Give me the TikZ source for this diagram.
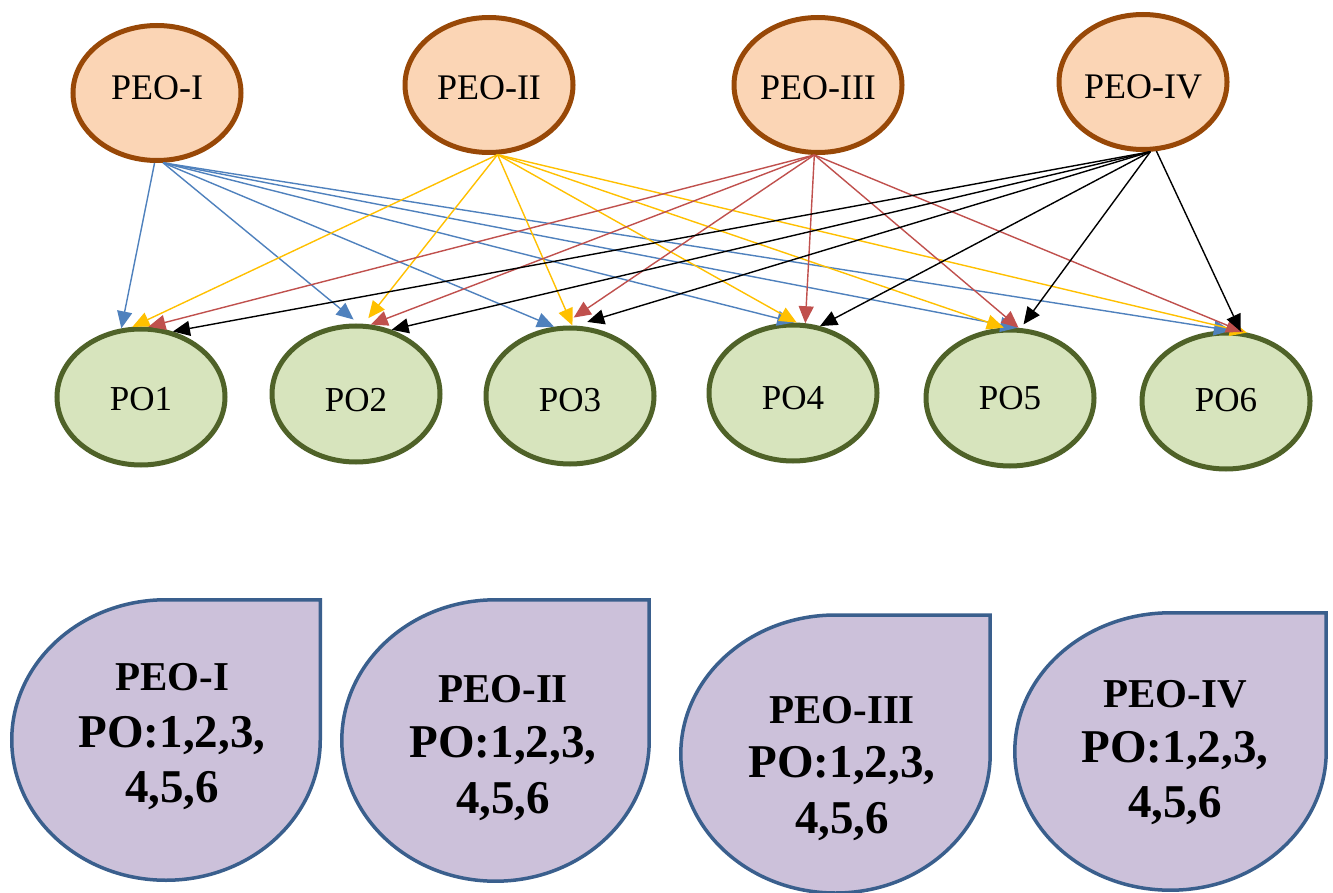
\documentclass[tikz,border=0pt]{standalone}
\usepackage{fontspec}
\setmainfont{Liberation Serif}
\usetikzlibrary{arrows.meta,shapes.geometric}
\definecolor{peofill}{HTML}{FBD5B5}
\definecolor{peoline}{HTML}{984807}
\definecolor{pofill}{HTML}{D7E4BD}
\definecolor{poline}{HTML}{4F6228}
\definecolor{tearfill}{HTML}{CCC1DA}
\definecolor{tearline}{HTML}{3A5F8D}
\definecolor{cblue}{HTML}{4F81BD}
\definecolor{cyel}{HTML}{FFC000}
\definecolor{cred}{HTML}{C0504D}
\begin{document}
\begin{tikzpicture}[x=1pt,y=-1pt,
  peo/.style={ellipse, draw=peoline, fill=peofill, line width=5pt, minimum width=168pt, minimum height=135pt, inner sep=0pt, font=\fontsize{36}{40}\selectfont},
  po/.style={ellipse, draw=poline, fill=pofill, line width=5pt, minimum width=168pt, minimum height=136pt, inner sep=0pt, font=\fontsize{35}{40}\selectfont, text depth=0.8pt},
  link/.style={line width=1.4pt, -{Triangle[length=17pt,width=15pt]}},
  lblue/.style={link, cblue},
  lyel/.style={link, cyel},
  lred/.style={link, cred},
  lblack/.style={link, black},
  tear/.style={draw=tearline, fill=tearfill, line width=3.5pt},
  tla/.style={anchor=base, inner sep=0pt, font=\fontsize{41}{45}\selectfont\bfseries},
  tlb/.style={anchor=base, inner sep=0pt, font=\fontsize{47}{50}\selectfont\bfseries}]
\useasboundingbox (0,0) rectangle (1333,893);
\fill[white] (0,0) rectangle (1333,893);

% top nodes
\node[peo, text height=24pt, text depth=11.2pt] (peo1) at (157,93) {PEO-I};
\node[peo, text height=30pt, text depth=0.2pt] (peo2) at (489,85) {PEO-II};
\node[peo, text height=30pt, text depth=0.2pt] (peo3) at (818,85) {PEO-III};
\node[peo, text height=34pt, text depth=0.2pt] (peo4) at (1143,82) {PEO-IV};

% bottom nodes
\node[po, text height=28pt] (po1) at (141,397) {PO1};
\node[po, text height=36pt] (po2) at (356,394) {PO2};
\node[po, text height=32pt] (po3) at (570,396) {PO3};
\node[po, text height=34pt] (po4) at (793,393) {PO4};
\node[po, text height=24pt] (po5) at (1010,398) {PO5};
\node[po, text height=22pt] (po6) at (1226,401) {PO6};

% PEO-I (blue)
\draw[lblue] (peo1.-92) -- (po1.106);
\draw[lblue] (peo1.-85) -- ([yshift=4pt]po2.92);
\draw[lblue] (peo1.-85) -- (po3.103);
\draw[lblue] (peo1.-85) -- (po4.89);
\draw[lblue] (peo1.-85) -- (po5.84);
\draw[lblue] (peo1.-85) -- (po6.86);

% PEO-II (yellow)
\draw[lyel] (peo2.-83) -- (po1.97);
\draw[lyel] (peo2.-83) -- ([yshift=6pt]po2.80);
\draw[lyel] (peo2.-83) -- (po3.88);
\draw[lyel] (peo2.-83) -- (po4.87);
\draw[lyel] (peo2.-83) -- (po5.95);
\draw[lyel] (peo2.-83) -- (po6.73);

% PEO-III (red)
\draw[lred] (peo3.-93) -- (po1.84);
\draw[lred] (peo3.-93) -- (po2.78);
\draw[lred] (peo3.-93) -- ([yshift=8pt]po3.87);
\draw[lred] (peo3.-93) -- (po4.80);
\draw[lred] (peo3.-93) -- (po5.83);
\draw[lred] (peo3.-93) -- (po6.76);

% PEO-IV (black)
\draw[lblack] (peo4.-84) -- (po1.64);
\draw[lblack] (peo4.-84) -- (po2.61);
\draw[lblack] (peo4.-84) -- ([yshift=5pt]po3.76);
\draw[lblack] (peo4.-84) -- (po4.68);
\draw[lblack] (peo4.-84) -- ([yshift=4pt]po5.79);
\draw[lblack] (peo4.-79) -- (po6.78);

% teardrops
\path[tear] (166,599.75) -- (320.25,599.75) -- (320.25,740) arc[start angle=0, end angle=270, x radius=154.25, y radius=140.25] -- cycle;
\path[tear] (495.5,599.8) -- (649.2,599.8) -- (649.2,740.5) arc[start angle=0, end angle=270, x radius=153.7, y radius=140.7] -- cycle;
\path[tear] (835.5,615) -- (990.2,615) -- (990.2,754) arc[start angle=0, end angle=270, x radius=154.7, y radius=139] -- cycle;
\path[tear] (1170.5,612.8) -- (1326.2,612.8) -- (1326.2,751.5) arc[start angle=0, end angle=270, x radius=155.7, y radius=138.7] -- cycle;

\node[tla] (t1a) at (172,690) {PEO-I};
\node[tlb] (t1b) at (172,747) {PO:1,2,3,};
\node[tlb] (t1c) at (172,802) {4,5,6};

\node[tla] (t2a) at (503,702) {PEO-II};
\node[tlb] (t2b) at (503,757) {PO:1,2,3,};
\node[tlb] (t2c) at (503,813) {4,5,6};

\node[tla] (t3a) at (842,723) {PEO-III};
\node[tlb] (t3b) at (842,777) {PO:1,2,3,};
\node[tlb] (t3c) at (842,833) {4,5,6};

\node[tla] (t4a) at (1175,707) {PEO-IV};
\node[tlb] (t4b) at (1175,762) {PO:1,2,3,};
\node[tlb] (t4c) at (1175,817) {4,5,6};
\end{tikzpicture}
\end{document}
